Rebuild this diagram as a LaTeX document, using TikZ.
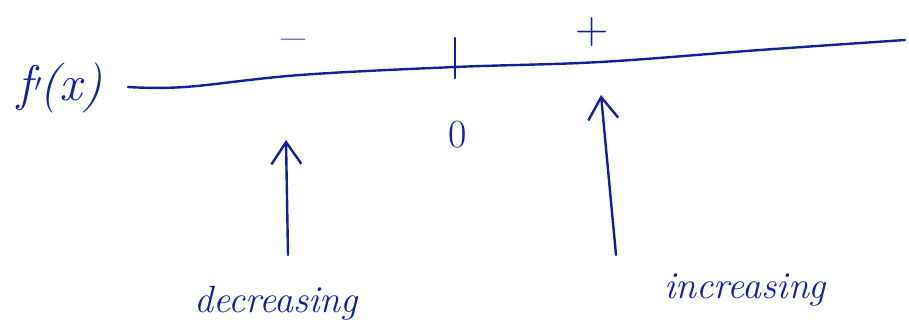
\documentclass[tikz,border=0pt]{standalone}
\usetikzlibrary{arrows.meta}
\definecolor{ink}{RGB}{22,32,150}
\begin{document}
\begin{tikzpicture}[x=1pt,y=-1pt,
  pen/.style={draw=ink,line width=2.4pt,line cap=round,line join=round},
  lab/.style={text=ink,inner sep=0pt,font=\fontsize{38}{40}\selectfont\itshape},
  sign/.style={text=ink,inner sep=0pt,text height=0.5em,text depth=0pt,anchor=base,font=\fontsize{52}{54}\selectfont},
  uparrow/.style={pen,-{Straight Barb[length=22pt,width=30pt,line width=2.4pt]}}]
\useasboundingbox (0,0) rectangle (909,335);
\node[text=ink,inner sep=0pt,font=\fontsize{50}{52}\selectfont\itshape] (fx) at (60,88) {f\kern2pt$'$\kern-2pt(x)};
\draw[pen] plot[smooth,tension=0.6] coordinates {(128,87) (185,87) (300,75) (455,67) (600,62) (760,50) (905,40)};
\coordinate (t1) at (455,38);
\coordinate (t2) at (455,78);
\draw[pen] (t1) -- (t2);
\node[sign] (minus) at (293,53) {\char"2013};
\node[sign,font=\fontsize{46}{48}\selectfont] (plus) at (592,43) {+};
\node[text=ink,inner sep=0pt,font=\fontsize{40}{42}\selectfont] (zero) at (458,135) {0};
\node[lab] (dec) at (276,303) {decreasing};
\node[lab] (inc) at (745,290) {increasing};
\coordinate (a1s) at (288,255);
\coordinate (a1e) at (286,140);
\coordinate (a2s) at (616,255);
\coordinate (a2e) at (601,95);
\draw[uparrow] (a1s) -- (a1e);
\draw[uparrow] (a2s) -- (a2e);
\end{tikzpicture}
\end{document}
